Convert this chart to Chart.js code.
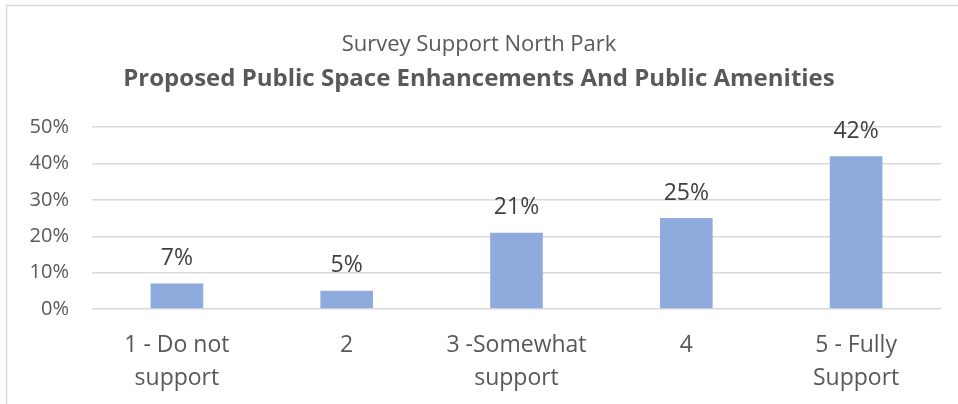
<!DOCTYPE html>
<html lang="en">
<head>
    <meta charset="UTF-8">
    <title>Survey Support North Park</title>
    <style>
        html, body { margin: 0; padding: 0; background: #fff; overflow: hidden; }
        #wrap { width: 958px; height: 404px; }
    </style>
</head>
<body>

    <div id="wrap">
        <canvas id="myChart" width="958" height="404"></canvas>
    </div>

    <script src="https://cdn.jsdelivr.net/npm/chart.js@4.4.1/dist/chart.umd.min.js"></script>
    <script>
        var categories = [
            ['1 - Do not', 'support'],
            '2',
            ['3 -Somewhat', 'support'],
            '4',
            ['5 - Fully', 'Support']
        ];
        var supportPct = [7, 5, 21, 25, 42];
        var tickValues = [0, 10, 20, 30, 40, 50];

        var textGrey = '#595959';
        var fontName = '"Open Sans", "Noto Sans", sans-serif';

        // value labels above each bar
        var barLabels = {
            id: 'barLabels',
            afterDatasetsDraw: function (chart) {
                var ctx = chart.ctx;
                var meta = chart.getDatasetMeta(0);
                ctx.save();
                ctx.font = '23px ' + fontName;
                ctx.fillStyle = '#404040';
                ctx.textAlign = 'center';
                ctx.textBaseline = 'middle';
                meta.data.forEach(function (bar, i) {
                    ctx.fillText(supportPct[i] + '%', bar.x, bar.y - 25);
                });
                ctx.restore();
            }
        };

        // thin frame round the chart area
        var frame = {
            id: 'frame',
            beforeDraw: function (chart) {
                var ctx = chart.ctx;
                ctx.save();
                ctx.strokeStyle = '#d9d9d9';
                ctx.lineWidth = 1.5;
                ctx.beginPath();
                ctx.moveTo(6.5, chart.height);
                ctx.lineTo(6.5, 5.5);
                ctx.lineTo(chart.width, 5.5);
                ctx.stroke();
                ctx.restore();
            }
        };

        function createChart() {
            var ctx = document.getElementById('myChart').getContext('2d');
            new Chart(ctx, {
                type: 'bar',
                data: {
                    labels: categories,
                    datasets: [{
                        data: supportPct,
                        backgroundColor: '#8faadc',
                        categoryPercentage: 1,
                        barPercentage: 0.31
                    }]
                },
                options: {
                    responsive: false,
                    animation: false,
                    layout: { padding: { left: 17, right: 17, top: 0, bottom: 0 } },
                    plugins: {
                        legend: { display: false },
                        tooltip: { enabled: false },
                        title: {
                            display: true,
                            text: 'Survey Support North Park',
                            color: textGrey,
                            font: { family: fontName, size: 22, weight: 'normal', lineHeight: 1.2 },
                            padding: { top: 32, bottom: 6 }
                        },
                        subtitle: {
                            display: true,
                            text: 'Proposed Public Space Enhancements And Public Amenities',
                            color: textGrey,
                            font: { family: fontName, size: 24, weight: 'bold', lineHeight: 1.2 },
                            padding: { top: 0, bottom: 34 }
                        }
                    },
                    scales: {
                        x: {
                            afterFit: function (scale) { scale.height = 95; },
                            grid: { display: false },
                            border: { display: false },
                            ticks: {
                                color: textGrey,
                                font: { family: fontName, size: 23, lineHeight: 1.43 },
                                padding: 12,
                                maxRotation: 0
                            }
                        },
                        y: {
                            min: 0,
                            max: 50,
                            afterFit: function (scale) { scale.width = 75; },
                            afterBuildTicks: function (scale) {
                                scale.ticks = tickValues.map(function (v) { return { value: v }; });
                            },
                            grid: { color: '#d9d9d9', lineWidth: 1.5, drawTicks: false },
                            border: { display: false },
                            ticks: {
                                color: textGrey,
                                font: { family: fontName, size: 20 },
                                padding: 23,
                                callback: function (v) { return v + '%'; }
                            }
                        }
                    }
                },
                plugins: [frame, barLabels]
            });
        }
        createChart();
    </script>

</body>
</html>
